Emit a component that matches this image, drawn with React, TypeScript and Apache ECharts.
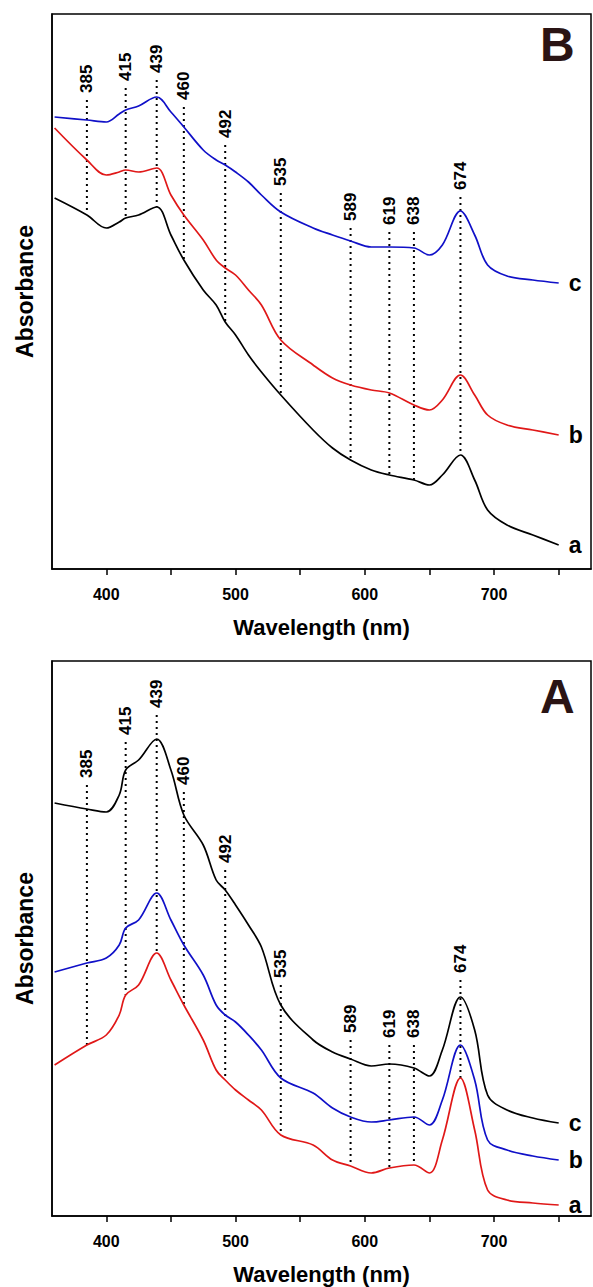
import { useEffect, useRef } from "react";
import * as echarts from "echarts";

const wavelengths = [360, 385, 400, 410, 415, 425, 439, 450, 460, 475, 485, 492, 500, 510, 520, 535, 560, 575, 589, 605, 619, 638, 650, 660, 674, 685, 695, 710, 730, 750];

// panel B
const bC = [4.53, 4.5, 4.48, 4.56, 4.6, 4.64, 4.73, 4.58, 4.43, 4.2, 4.1, 4.05, 3.98, 3.88, 3.75, 3.58, 3.42, 3.35, 3.29, 3.23, 3.23, 3.22, 3.15, 3.25, 3.59, 3.35, 3.05, 2.94, 2.9, 2.87];
const bB = [4.42, 4.1, 3.95, 3.98, 4.0, 3.98, 4.02, 3.75, 3.55, 3.3, 3.1, 3.02, 2.95, 2.8, 2.65, 2.3, 2.05, 1.92, 1.85, 1.8, 1.77, 1.65, 1.6, 1.7, 1.95, 1.75, 1.55, 1.45, 1.4, 1.35];
const bA = [3.72, 3.55, 3.42, 3.48, 3.52, 3.55, 3.63, 3.35, 3.1, 2.8, 2.65, 2.48, 2.35, 2.15, 1.98, 1.75, 1.4, 1.22, 1.1, 1.0, 0.95, 0.9, 0.85, 0.95, 1.15, 0.9, 0.6, 0.45, 0.35, 0.25];

// panel A
const aC = [4.24, 4.18, 4.15, 4.32, 4.57, 4.67, 4.88, 4.57, 4.12, 3.82, 3.47, 3.37, 3.22, 3.02, 2.8, 2.22, 1.87, 1.75, 1.68, 1.61, 1.63, 1.59, 1.51, 1.77, 2.3, 1.97, 1.32, 1.17, 1.09, 1.04];
const aB = [2.55, 2.64, 2.69, 2.82, 2.99, 3.07, 3.34, 3.07, 2.82, 2.52, 2.22, 2.12, 2.05, 1.92, 1.77, 1.49, 1.34, 1.19, 1.1, 1.05, 1.07, 1.1, 1.02, 1.27, 1.82, 1.47, 0.87, 0.77, 0.71, 0.67];
const aA = [1.62, 1.82, 1.92, 2.12, 2.32, 2.42, 2.74, 2.47, 2.22, 1.87, 1.57, 1.47, 1.37, 1.27, 1.17, 0.92, 0.82, 0.67, 0.61, 0.54, 0.59, 0.62, 0.54, 0.87, 1.49, 0.97, 0.37, 0.27, 0.24, 0.22];

const peaks = [385, 415, 439, 460, 492, 535, 589, 619, 638, 674];
const peakTopB = [4.7, 4.82, 4.9, 4.63, 4.25, 3.77, 3.42, 3.38, 3.38, 3.73];
const peakBottomB = [3.58, 3.52, 3.63, 3.1, 2.48, 1.75, 1.1, 0.95, 0.9, 1.15];
const peakTopA = [4.42, 4.85, 5.12, 4.35, 3.57, 2.42, 1.87, 1.82, 1.82, 2.47];
const peakBottomA = [1.82, 2.32, 2.74, 2.22, 1.47, 0.92, 0.61, 0.59, 0.62, 1.49];

const xTicks = [400, 450, 500, 550, 600, 650, 700, 750];
const xLabels = [400, 500, 600, 700];

const font = "Liberation Sans, Arial, sans-serif";

export default function App() {
  const ref = useRef<HTMLDivElement>(null);
  useEffect(() => {
    document.body.style.margin = "0";
    if (!ref.current) return;
    const chart = echarts.init(ref.current, null, { renderer: "svg" });

    const curve = (name: string, vals: number[], color: string, idx: number) => ({
      name,
      type: "line",
      xAxisIndex: idx,
      yAxisIndex: idx,
      data: wavelengths.map((w, i) => [w, vals[i]]),
      smooth: 0.35,
      symbol: "none",
      lineStyle: { color, width: 1.7 },
      endLabel: {
        show: true,
        formatter: name,
        color: "#000",
        fontSize: 23,
        fontWeight: "bold",
        fontFamily: font,
        distance: 10,
      },
    });

    const markers = (tops: number[], bottoms: number[], idx: number) =>
      peaks.map((p, i) => ({
        type: "line",
        xAxisIndex: idx,
        yAxisIndex: idx,
        symbol: "circle",
        symbolSize: 0.1,
        showSymbol: true,
        itemStyle: { color: "#000" },
        lineStyle: { color: "#000", width: 2, type: [2, 4] },
        label: {
          show: true,
          formatter: String(p),
          position: "top",
          rotate: 90,
          align: "left",
          verticalAlign: "middle",
          distance: 7,
          color: "#000",
          fontSize: 17,
          fontWeight: "bold",
          fontFamily: font,
        },
        data: [
          [p, tops[i]],
          { value: [p, bottoms[i]], label: { show: false } },
        ],
      }));

    const xAxis = (idx: number) => ({
      type: "value",
      gridIndex: idx,
      min: 358,
      max: 775,
      name: "Wavelength (nm)",
      nameLocation: "middle",
      nameGap: 47,
      nameTextStyle: { fontSize: 22, fontWeight: "bold", color: "#000", fontFamily: font },
      axisLine: { show: true, lineStyle: { color: "#000", width: 1.5 } },
      axisTick: { show: true, length: 6, customValues: xTicks, lineStyle: { color: "#000", width: 1.5 } },
      axisLabel: { customValues: xLabels, color: "#000", fontSize: 16, fontWeight: "bold", fontFamily: font, margin: 17 },
      splitLine: { show: false },
    });

    const yAxis = (idx: number, min: number, max: number) => ({
      type: "value",
      gridIndex: idx,
      min,
      max,
      name: "Absorbance",
      nameLocation: "middle",
      nameGap: 16,
      nameTextStyle: { fontSize: 23, fontWeight: "bold", color: "#000", fontFamily: font },
      axisLine: { show: true, lineStyle: { color: "#000", width: 1.5 } },
      axisTick: { show: false },
      axisLabel: { show: false },
      splitLine: { show: false },
    });

    chart.setOption({
      animation: false,
      backgroundColor: "#fff",
      grid: [
        { left: 52, top: 14, width: 539, height: 555, show: true, borderColor: "#000", borderWidth: 1.5, outerBoundsMode: "none" },
        { left: 52, top: 661, width: 539, height: 555, show: true, borderColor: "#000", borderWidth: 1.5, outerBoundsMode: "none" },
      ],
      xAxis: [xAxis(0), xAxis(1)],
      yAxis: [yAxis(0, 0.01, 5.56), yAxis(1, 0.11, 5.66)],
      graphic: [
        { type: "text", left: 540, top: 20, style: { text: "B", fontSize: 48, fontWeight: "bold", fontFamily: font, fill: "#2a1414" } },
        { type: "text", left: 540, top: 672, style: { text: "A", fontSize: 48, fontWeight: "bold", fontFamily: font, fill: "#2a1414" } },
      ],
      series: [
        ...markers(peakTopB, peakBottomB, 0),
        curve("c", bC, "#1010c8", 0),
        curve("b", bB, "#e01818", 0),
        curve("a", bA, "#000", 0),
        ...markers(peakTopA, peakBottomA, 1),
        curve("c", aC, "#000", 1),
        curve("b", aB, "#1010c8", 1),
        curve("a", aA, "#e01818", 1),
      ],
    });
    return () => chart.dispose();
  }, []);
  return <div ref={ref} style={{ width: 593, height: 1287 }} />;
}
